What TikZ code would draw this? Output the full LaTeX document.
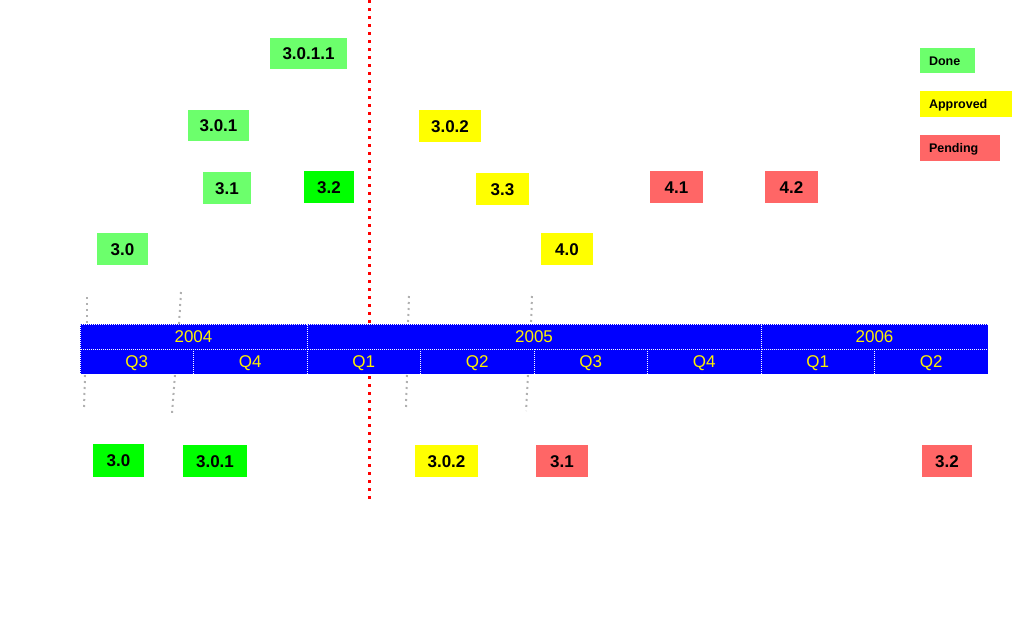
\documentclass[tikz,border=0pt]{standalone}
\usepackage{fontspec}
\setmainfont{Liberation Sans}
\definecolor{donelight}{RGB}{108,255,108}
\definecolor{donebright}{RGB}{0,255,0}
\definecolor{approvedc}{RGB}{255,255,0}
\definecolor{pendingc}{RGB}{255,102,102}
\definecolor{barblue}{RGB}{0,0,255}
\definecolor{guidegray}{RGB}{176,176,176}
\tikzset{
  box/.style={rectangle, inner sep=0pt, minimum height=32pt, text height=12.2pt, text depth=0pt,
              font=\fontsize{17}{17}\selectfont\bfseries},
  donel/.style={box, fill=donelight},
  doneb/.style={box, fill=donebright},
  appr/.style={box, fill=approvedc},
  pend/.style={box, fill=pendingc},
  legend/.style={rectangle, inner ysep=0pt, inner xsep=9pt, align=left, minimum height=26pt,
                 text height=9pt, text depth=0pt, font=\fontsize{12.5}{12.5}\selectfont\bfseries},
  cell/.style={rectangle, inner sep=0pt, minimum height=25pt, fill=barblue, draw=white,
               line width=1pt, dash pattern=on 1pt off 1pt, text=yellow,
               text height=12.2pt, text depth=0pt, font=\fontsize{17}{17}\selectfont},
  guide/.style={draw=guidegray, line width=2pt, dash pattern=on 2pt off 4pt},
  today/.style={draw=red, line width=3pt, dash pattern=on 3pt off 5pt}
}
\begin{document}
\begin{tikzpicture}[x=1pt,y=-1pt]
\useasboundingbox (0,0) rectangle (1015,624);
% today line (behind the bar)
\coordinate (ta) at (369,0); \coordinate (tb) at (369,500);
\draw[today] (ta) -- (tb);
% gray guides
\coordinate (g1a) at (87,297); \coordinate (g1b) at (87,324);
\coordinate (g2a) at (181,292); \coordinate (g2b) at (179,324);
\coordinate (g3a) at (409,296); \coordinate (g3b) at (408,324);
\coordinate (g4a) at (532,296); \coordinate (g4b) at (531,324);
\coordinate (h1a) at (85,375); \coordinate (h1b) at (84,408);
\coordinate (h2a) at (175,375); \coordinate (h2b) at (172,413);
\coordinate (h3a) at (407,375); \coordinate (h3b) at (406,407);
\coordinate (h4a) at (528,375); \coordinate (h4b) at (526,411);
\draw[guide] (g1a) -- (g1b);
\draw[guide] (g2a) -- (g2b);
\draw[guide] (g3a) -- (g3b);
\draw[guide] (g4a) -- (g4b);
\draw[guide] (h1a) -- (h1b);
\draw[guide] (h2a) -- (h2b);
\draw[guide] (h3a) -- (h3b);
\draw[guide] (h4a) -- (h4b);
% timeline bar
\node[cell, minimum width=227pt] (y2004) at (193.5,336.5) {2004};
\node[cell, minimum width=454pt] (y2005) at (534,336.5) {2005};
\node[cell, minimum width=227pt] (y2006) at (874.5,336.5) {2006};
\node[cell, minimum width=113.5pt] (q1) at (136.75,361.5) {Q3};
\node[cell, minimum width=113.5pt] (q2) at (250.25,361.5) {Q4};
\node[cell, minimum width=113.5pt] (q3) at (363.75,361.5) {Q1};
\node[cell, minimum width=113.5pt] (q4) at (477.25,361.5) {Q2};
\node[cell, minimum width=113.5pt] (q5) at (590.75,361.5) {Q3};
\node[cell, minimum width=113.5pt] (q6) at (704.25,361.5) {Q4};
\node[cell, minimum width=113.5pt] (q7) at (817.75,361.5) {Q1};
\node[cell, minimum width=113.5pt] (q8) at (931.25,361.5) {Q2};
% top boxes
\node[donel, minimum width=77pt, minimum height=31pt] (a3011) at (308.5,53.5) {3.0.1.1};
\node[donel, minimum width=61pt, minimum height=31pt] (a301) at (218.5,125.5) {3.0.1};
\node[donel, minimum width=48pt] (a31) at (227,188) {3.1};
\node[doneb, minimum width=50pt] (a32) at (329,187) {3.2};
\node[donel, minimum width=51pt] (a30) at (122.5,249) {3.0};
\node[appr, minimum width=62pt] (a302) at (450,126) {3.0.2};
\node[appr, minimum width=53pt] (a33) at (502.5,189) {3.3};
\node[pend, minimum width=53pt] (a41) at (676.5,187) {4.1};
\node[pend, minimum width=53pt] (a42) at (791.5,187) {4.2};
\node[appr, minimum width=52pt] (a40) at (567,249) {4.0};
% bottom boxes
\node[doneb, minimum width=51pt, minimum height=33pt] (b30) at (118.5,460.5) {3.0};
\node[doneb, minimum width=64pt] (b301) at (215,461) {3.0.1};
\node[appr, minimum width=63pt] (b302) at (446.5,461) {3.0.2};
\node[pend, minimum width=52pt] (b31) at (562,461) {3.1};
\node[pend, minimum width=50pt] (b32) at (947,461) {3.2};
% legend
\node[legend, fill=donelight, text width=37pt, minimum height=25pt] (ldone) at (947.5,60.5) {Done};
\node[legend, fill=approvedc, text width=74pt] (lappr) at (966,104) {Approved};
\node[legend, fill=pendingc, text width=62pt] (lpend) at (960,148) {Pending};
\end{tikzpicture}
\end{document}
